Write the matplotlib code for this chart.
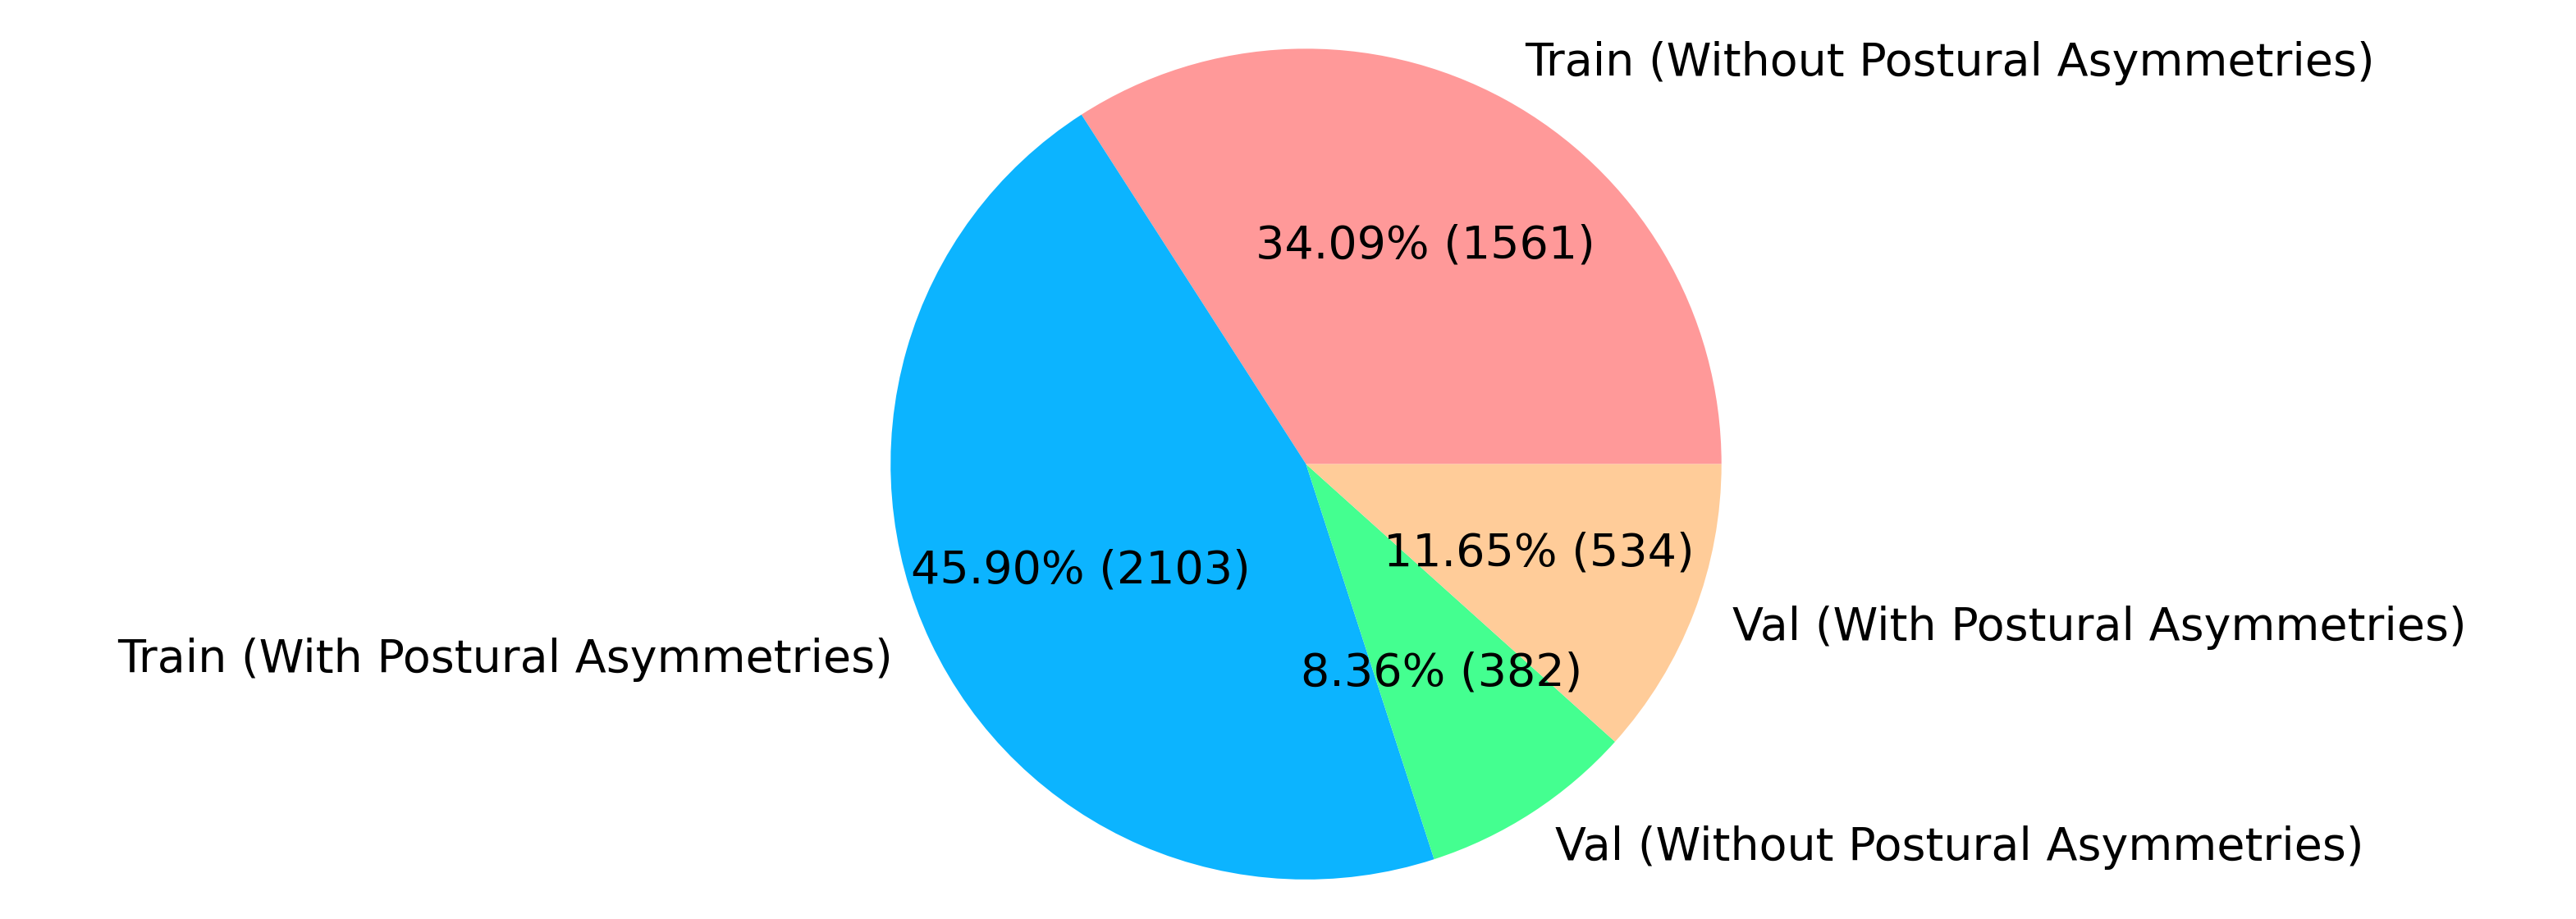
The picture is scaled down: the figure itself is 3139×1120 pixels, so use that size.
import matplotlib; matplotlib.use("Agg")
import matplotlib.pyplot as plt

labels = ["Train (Without Postural Asymmetries)", "Train (With Postural Asymmetries)",
          "Val (Without Postural Asymmetries)", "Val (With Postural Asymmetries)"]
pcts = [34.09, 45.90, 8.36, 11.65]
counts = [1561, 2103, 382, 534]
colors = ["#ff9999", "#0cb4ff", "#44ff90", "#ffcc99"]

fig = plt.figure(figsize=(15.695, 5.6), dpi=200)
ax = fig.add_axes([0.507 - 0.1614, 0.495 - 0.452, 0.3228, 0.904])
it = iter(zip(pcts, counts))
def fmt(_):
    p, c = next(it)
    return f"{p:.2f}% ({c})"
ax.pie(pcts, labels=labels, colors=colors, autopct=fmt, startangle=0,
       textprops={"fontsize": 20})
ax.set_xlim(-1, 1); ax.set_ylim(-1, 1); ax.set_aspect("equal")
fig.savefig("out.png", dpi=200)
